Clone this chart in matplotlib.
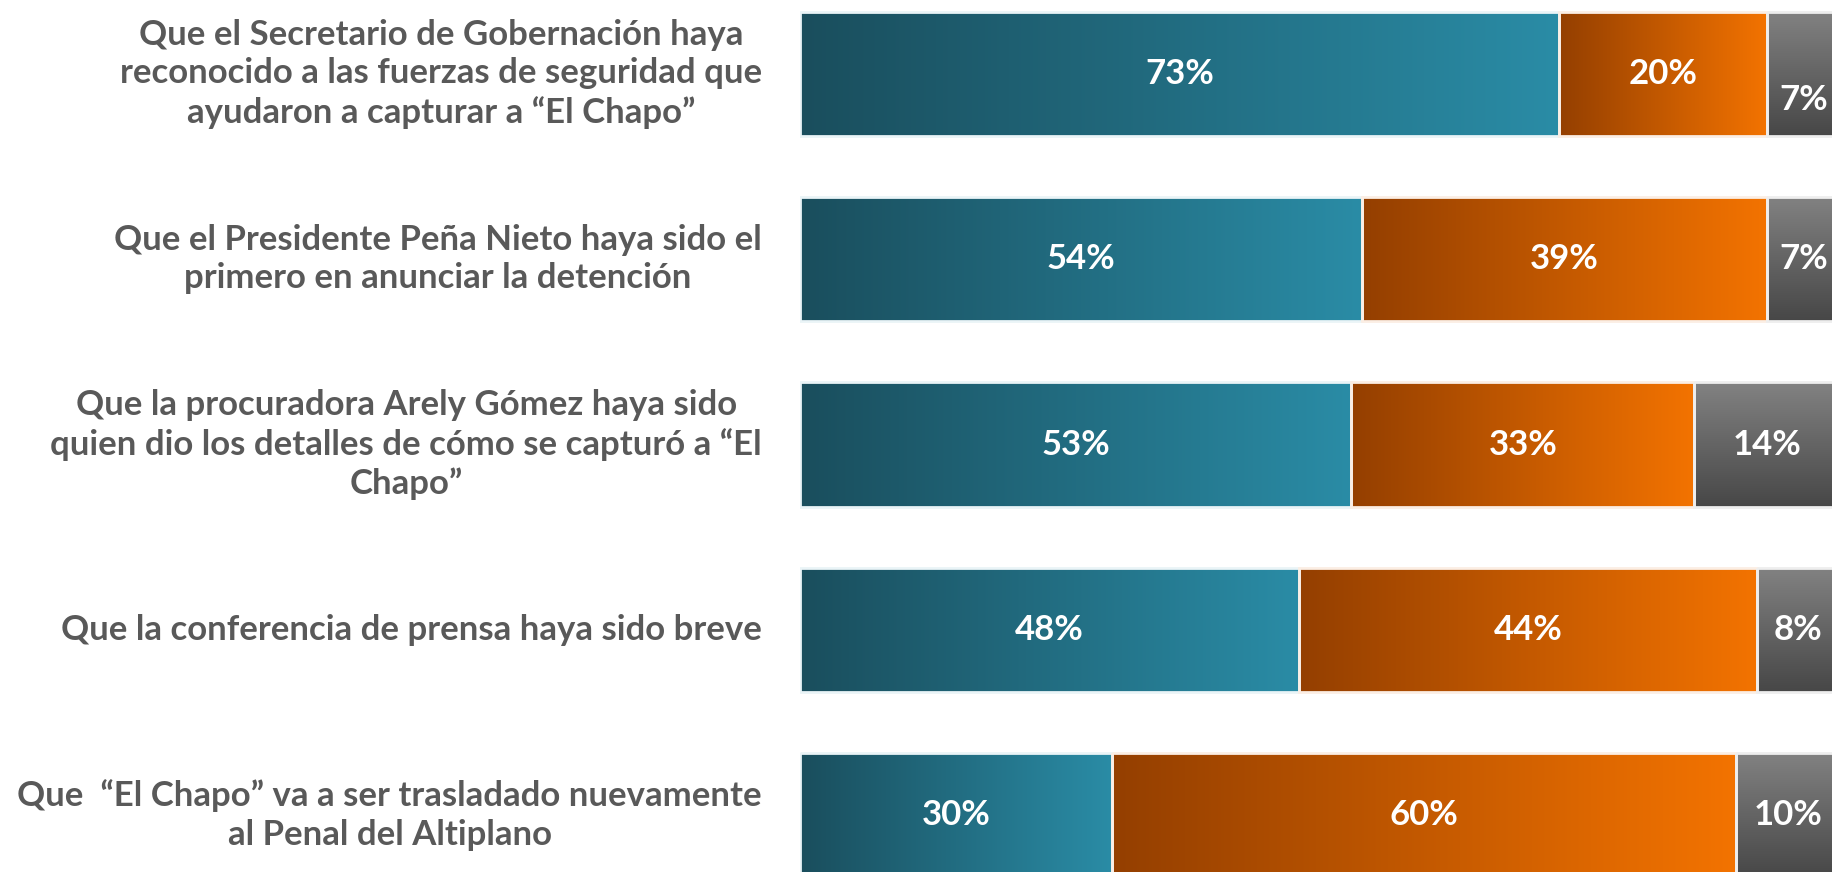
import matplotlib
matplotlib.use("Agg")
import matplotlib.pyplot as plt
import numpy as np
from matplotlib.colors import LinearSegmentedColormap

# datos
preguntas = [
    "Que el Secretario de Gobernación haya\nreconocido a las fuerzas de seguridad que\nayudaron a capturar a “El Chapo”",
    "Que el Presidente Peña Nieto haya sido el\nprimero en anunciar la detención",
    "Que la procuradora Arely Gómez haya sido\nquien dio los detalles de cómo se capturó a “El\nChapo”",
    "Que la conferencia de prensa haya sido breve",
    "Que  “El Chapo” va a ser trasladado nuevamente\nal Penal del Altiplano",
]
bien = [73, 54, 53, 48, 30]
mal = [20, 39, 33, 44, 60]
ns_nc = [7, 7, 14, 8, 10]

plt.rcParams["font.family"] = ["Lato", "DejaVu Sans"]

fig = plt.figure(figsize=(18.33, 8.72), dpi=100)
ax = fig.add_axes([800 / 1833, 0, 1040 / 1833, 1])


def relleno(patch, c0, c1, vertical=False):
    x, y = patch.get_x(), patch.get_y()
    w, h = patch.get_width(), patch.get_height()
    cmap = LinearSegmentedColormap.from_list("g", [c0, c1])
    g = np.linspace(0, 1, 256)
    g = g.reshape(-1, 1) if vertical else g.reshape(1, -1)
    im = ax.imshow(g, cmap=cmap, extent=[x, x + w, y + h, y], aspect="auto",
                   interpolation="bicubic", zorder=1)
    im.set_clip_path(patch)


y = np.arange(len(preguntas))
h = 0.67
b1 = ax.barh(y, bien, height=h, facecolor="none", edgecolor="#eaf4f7", lw=2, zorder=2)
b2 = ax.barh(y, mal, left=bien, height=h, facecolor="none", edgecolor="#fbeee4", lw=2, zorder=2)
izq = np.array(bien) + np.array(mal)
b3 = ax.barh(y, ns_nc, left=izq, height=h, facecolor="none", edgecolor="#eeeeee", lw=2, zorder=2)

for p in b1:
    relleno(p, "#1a4e5d", "#2a8ca6")
for p in b2:
    relleno(p, "#943f00", "#f37300")
for p in b3:
    relleno(p, "#828282", "#474747", vertical=True)

for i in range(len(preguntas)):
    ax.text(bien[i] / 2, y[i], f"{bien[i]}%", ha="center", va="center",
            color="white", fontsize=25, fontweight="bold", zorder=3)
    ax.text(bien[i] + mal[i] / 2, y[i], f"{mal[i]}%", ha="center", va="center",
            color="white", fontsize=25, fontweight="bold", zorder=3)
    dy = 0.14 if i == 0 else 0
    ax.text(izq[i] + ns_nc[i] / 2, y[i] + dy, f"{ns_nc[i]}%", ha="center", va="center",
            color="white", fontsize=25, fontweight="bold", zorder=3)
    ax.text(-3.65, y[i], preguntas[i], ha="right", va="center", multialignment="center",
            color="#595959", fontsize=25, fontweight="bold", linespacing=1.24, clip_on=False)

ax.set_xlim(0, 100)
ax.set_ylim(4.308, -0.40)
ax.axis("off")

fig.savefig("out.png", dpi=100)
